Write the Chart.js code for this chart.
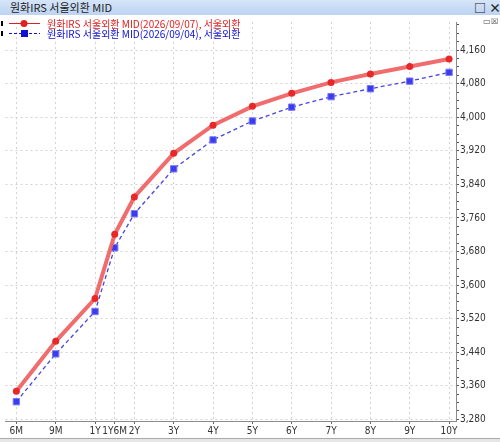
<!DOCTYPE html>
<html>
<head>
<meta charset="utf-8">
<script src="https://cdn.jsdelivr.net/npm/chart.js@4"></script>
<style>
  html, body { margin: 0; padding: 0; background: #fff; }
  #wrap { position: relative; width: 500px; height: 442px; overflow: hidden; }
  #titlebar {
    position: absolute; left: 0; top: 0; width: 500px; height: 15px;
    background: linear-gradient(#d6e5f8, #bcd3f2);
    font: 11px 'Noto Sans CJK KR', sans-serif; color: #222; line-height: 15px;
  }
  #titlebar .t { position: absolute; left: 10px; top: 0; }
  #titlebar .b { position: absolute; top: 0; font-size: 12px; font-weight: bold; }
  #box { position: absolute; left: 0; top: 15px; width: 500px; height: 427px; }
  #mini { position: absolute; left: 483px; top: 17px; font: 8px sans-serif; color: #444; }
  #bottom { position: absolute; left: 0; top: 438px; width: 500px; height: 4px; background: #e6e6e6; border-top: 1px solid #aaa; }
</style>
</head>
<body>
<div id="wrap">
  <div id="titlebar">
    <span class="t">원화IRS 서울외환 MID</span>
    <span class="b" style="left:474px">□</span>
    <span class="b" style="left:489px">×</span>
  </div>
  <div id="box"><canvas id="chart"></canvas></div>
  <div id="mini">▭☒</div>
  <div id="bottom"></div>
</div>
<script>
// tenor positions on the x axis (1Y6M sits between 1Y and 2Y)
var xLabels = ['6M', '9M', '1Y', '1Y6M', '2Y', '3Y', '4Y', '5Y', '6Y', '7Y', '8Y', '9Y', '10Y'];
var xPositions = [0, 1, 2, 2.5, 3, 4, 5, 6, 7, 8, 9, 10, 11];

var redValues  = [3347, 3466, 3568, 3721, 3810, 3914, 3981, 4026, 4057, 4083, 4103, 4121, 4139];
var blueValues = [3322, 3436, 3537, 3689, 3770, 3877, 3946, 3991, 4024, 4049, 4068, 4086, 4107];

var yMajorTicks = [3280, 3360, 3440, 3520, 3600, 3680, 3760, 3840, 3920, 4000, 4080, 4160];

var redLabel  = '원화IRS 서울외환 MID(2026/09/07), 서울외환';
var blueLabel = '원화IRS 서울외환 MID(2026/09/04), 서울외환';

var axisFont = { family: "'Liberation Sans Narrow', 'DejaVu Sans Condensed', sans-serif", size: 10 };

function isMajor(v) {
    return yMajorTicks.indexOf(v) !== -1;
}

// 범례 (그림 위에 직접 그림)
var legendPlugin = {
    id: 'topLegend',
    afterDraw: function (chart) {
        var ctx = chart.ctx;
        var rows = [
            { y: 8, color: '#e02020', label: redLabel, dash: [], shape: 'circle' },
            { y: 18, color: '#1010d0', label: blueLabel, dash: [3, 2], shape: 'rect' }
        ];
        ctx.save();
        rows.forEach(function (r) {
            ctx.fillStyle = '#000';
            ctx.fillRect(1, r.y - 2, 2, 5);
            ctx.strokeStyle = r.color;
            ctx.lineWidth = 1;
            ctx.setLineDash(r.dash);
            ctx.beginPath();
            ctx.moveTo(9, r.y + 0.5);
            ctx.lineTo(40, r.y + 0.5);
            ctx.stroke();
            ctx.setLineDash([]);
            ctx.fillStyle = r.color;
            if (r.shape === 'circle') {
                ctx.beginPath();
                ctx.arc(24, r.y + 0.5, 3.5, 0, Math.PI * 2);
                ctx.fill();
            } else {
                ctx.fillRect(21, r.y - 3, 7, 7);
            }
            ctx.font = "10px 'Liberation Sans Narrow', 'Noto Sans CJK KR', sans-serif";
            ctx.textBaseline = 'middle';
            ctx.fillText(r.label, 47, r.y + 1);
        });
        ctx.restore();
    }
};

var ctx = document.getElementById('chart').getContext('2d');
new Chart(ctx, {
    type: 'line',
    data: {
        datasets: [
            {
                label: redLabel,
                data: xPositions.map(function (x, i) { return { x: x, y: redValues[i] }; }),
                borderColor: 'rgba(240, 96, 96, 0.92)',
                borderWidth: 4,
                pointRadius: 3.5,
                pointBackgroundColor: '#e82828',
                pointBorderWidth: 0,
                tension: 0
            },
            {
                label: blueLabel,
                data: xPositions.map(function (x, i) { return { x: x, y: blueValues[i] }; }),
                borderColor: '#4646e0',
                borderWidth: 1.3,
                borderDash: [4, 3],
                pointStyle: 'rect',
                pointRadius: 4.5,
                pointBackgroundColor: '#3c3cee',
                pointBorderColor: '#7a7af8',
                pointBorderWidth: 1,
                tension: 0
            }
        ]
    },
    options: {
        responsive: true,
        maintainAspectRatio: false,
        animation: false,
        layout: { padding: { top: 1, left: 0, right: 0, bottom: 0 } },
        plugins: {
            legend: { display: false },
            tooltip: { enabled: false }
        },
        scales: {
            x: {
                type: 'linear',
                min: -0.276,
                max: 11.176,
                afterBuildTicks: function (scale) {
                    scale.ticks = xPositions.map(function (v) { return { value: v }; });
                },
                afterFit: function (scale) { scale.height = 21; },
                ticks: {
                    autoSkip: false,
                    maxRotation: 0,
                    padding: 1,
                    color: '#333',
                    font: axisFont,
                    callback: function (val, idx) { return xLabels[idx]; }
                },
                grid: {
                    color: '#d2d2d2',
                    tickColor: '#666',
                    tickLength: 3
                },
                border: { color: '#8a8a8a', width: 1, dash: [2, 3] }
            },
            y: {
                position: 'right',
                min: 3276,
                max: 4227,
                afterBuildTicks: function (scale) {
                    var t = [];
                    for (var v = 3280; v <= 4220; v += 20) t.push({ value: v });
                    scale.ticks = t;
                },
                afterFit: function (scale) { scale.width = 44; },
                ticks: {
                    autoSkip: false,
                    padding: 1,
                    color: '#333',
                    font: axisFont,
                    callback: function (val) {
                        return isMajor(val) ? val.toLocaleString('en-US') : '';
                    }
                },
                grid: {
                    color: function (c) { return isMajor(c.tick.value) ? '#d2d2d2' : 'rgba(0,0,0,0)'; },
                    tickColor: '#555',
                    tickLength: 3
                },
                border: { color: '#8a8a8a', width: 1, dash: [2, 3] }
            }
        }
    },
    plugins: [legendPlugin]
});
</script>
</body>
</html>
